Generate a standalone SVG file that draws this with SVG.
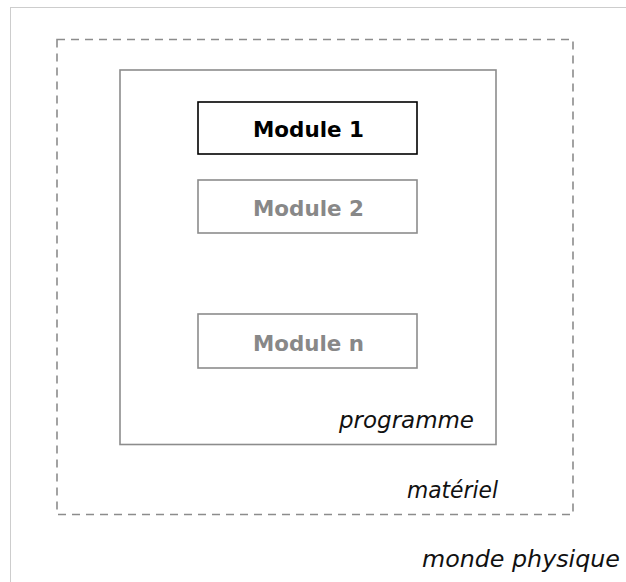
<svg xmlns="http://www.w3.org/2000/svg" width="626" height="582" viewBox="0 0 626 582">
  <style>
    .world { fill: none; stroke: #9a9a9a; stroke-width: 1; stroke-dasharray: 1 1; }
    .hw { fill: none; stroke: #8c8c8c; stroke-width: 1.6; stroke-dasharray: 8 6; }
    .prog { fill: #fff; stroke: #8c8c8c; stroke-width: 1.6; }
    .mod { fill: #fff; stroke-width: 1.6; }
    .mod.active rect { stroke: #000; }
    .mod.idle rect { stroke: #8c8c8c; }
    .mlabel { font-family: "DejaVu Sans", "Open Sans", sans-serif; font-weight: bold; font-size: 21.5px; text-anchor: middle; }
    .active .mlabel { fill: #000; }
    .idle .mlabel { fill: #888; }
    .layer { font-family: "DejaVu Sans", "Open Sans", sans-serif; font-style: italic; font-size: 22.5px; fill: #111; text-anchor: end; }
  </style>
  <rect width="626" height="582" fill="#fff"/>

  <!-- physical world: dotted frame running off the canvas -->
  <g id="monde">
    <rect class="world" x="10.5" y="7.5" width="640" height="600"/>
    <text class="layer" x="620" y="567" textLength="198" lengthAdjust="spacingAndGlyphs">monde physique</text>
  </g>

  <!-- hardware layer -->
  <g id="materiel">
    <rect class="hw" x="57" y="39.5" width="516" height="475"/>
    <text class="layer" x="498" y="497.5" textLength="91" lengthAdjust="spacingAndGlyphs">matériel</text>
  </g>

  <!-- program layer -->
  <g id="programme">
    <rect class="prog" x="120" y="70" width="376" height="374.5"/>
    <text class="layer" x="474" y="428" textLength="135" lengthAdjust="spacingAndGlyphs">programme</text>
  </g>

  <g id="module1" class="mod active">
    <rect x="198" y="102" width="219" height="52"/>
    <text class="mlabel" x="308.5" y="136.5" textLength="111" lengthAdjust="spacingAndGlyphs">Module 1</text>
  </g>

  <g id="module2" class="mod idle">
    <rect x="198" y="180" width="219" height="53"/>
    <text class="mlabel" x="308.5" y="215.5" textLength="111" lengthAdjust="spacingAndGlyphs">Module 2</text>
  </g>

  <g id="modulen" class="mod idle">
    <rect x="198" y="314" width="219" height="54"/>
    <text class="mlabel" x="308.5" y="350.5" textLength="111" lengthAdjust="spacingAndGlyphs">Module n</text>
  </g>

  <g id="connectors"/>
</svg>
